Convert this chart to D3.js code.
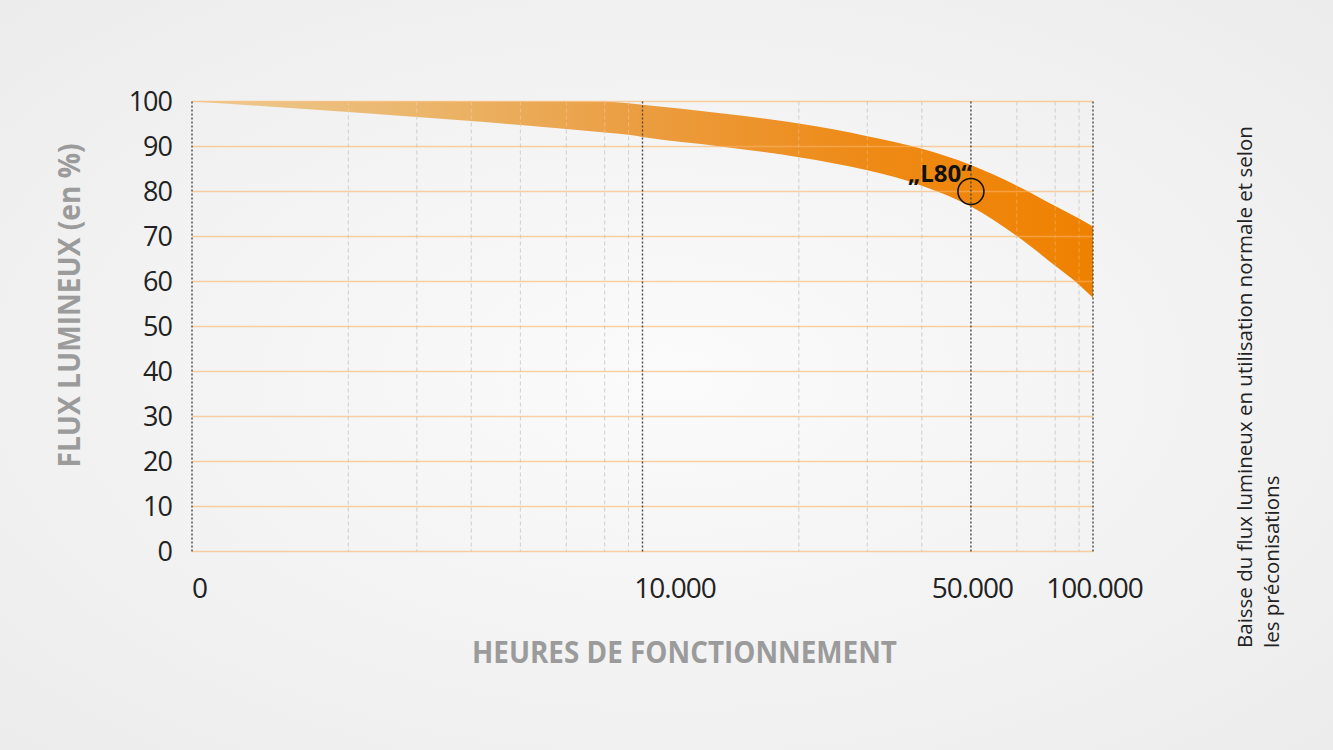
<!DOCTYPE html>
<html>
<head>
<meta charset="utf-8">
<script src="https://cdn.jsdelivr.net/npm/d3@7"></script>
<style>
  html, body { margin: 0; padding: 0; }
  body { width: 1333px; height: 750px; overflow: hidden; }
  svg { display: block; }
</style>
</head>
<body>
<svg id="chart" width="1333" height="750"></svg>
<script>
// ---------- data ----------
const gridHours = [0, 2000, 3000, 4000, 5000, 6000, 7000, 8000, 10000,
                   20000, 30000, 40000, 50000, 60000, 70000, 80000, 100000];
const majorHours = [0, 10000, 50000, 100000];
const xTickValues = [0, 10000, 50000, 100000];
const yTickValues = [0, 10, 20, 30, 40, 50, 60, 70, 80, 90, 100];

const bandHours  = [0, 2000, 3000, 4000, 5000, 6000, 7000, 8000, 10000, 15000,
                    20000, 30000, 40000, 50000, 60000, 70000, 80000, 100000];
const bandTop    = [100, 100, 100, 100, 100, 100, 99.95, 99.6, 99.3, 97.4,
                    95.1, 92.3, 89.5, 85.9, 81.3, 76.8, 74.0, 72.2];
const bandBottom = [100, 97.66, 96.57, 95.64, 94.76, 93.89, 93.13, 92.6, 92.1, 90.0,
                    87.6, 84.7, 81.3, 76.65, 70.1, 63.5, 59.3, 56.4];

const l80Point = { hours: 50000, value: 80, label: "„L80“" };

const yTitle = "FLUX LUMINEUX (en %)";
const xTitle = "HEURES DE FONCTIONNEMENT";
const noteLines = ["Baisse du flux lumineux en utilisation normale et selon",
                   "les préconisations"];

// ---------- layout ----------
const pL = 192, pR = 1093, pT = 101.5, pB = 551.5;
// relative placement of grid lines inside one decade (designer's pseudo-log axis)
const decadeFrac = [0, 0.347, 0.499, 0.62, 0.729, 0.831, 0.916, 0.969, 1];
const half = (pR - pL) / 2;
const xRange = [];
decadeFrac.forEach(f => xRange.push(pL + f * half));
decadeFrac.slice(1).forEach(f => xRange.push(pL + half + f * half));

const x = d3.scaleLinear().domain(gridHours).range(xRange);
const y = d3.scaleLinear().domain([0, 100]).range([pB, pT]);

const svg = d3.select("#chart");
const defs = svg.append("defs");

// background
const bg = defs.append("radialGradient").attr("id", "bg")
  .attr("cx", "50%").attr("cy", "50%").attr("r", "75%");
bg.append("stop").attr("offset", "0%").attr("stop-color", "#fbfbfb");
bg.append("stop").attr("offset", "100%").attr("stop-color", "#ebebeb");
svg.append("rect").attr("width", 1333).attr("height", 750).attr("fill", "url(#bg)");

// band gradient
const bandGrad = defs.append("linearGradient").attr("id", "band")
  .attr("gradientUnits", "userSpaceOnUse")
  .attr("x1", pL).attr("x2", pR).attr("y1", 0).attr("y2", 0);
[["0%", "#eccb94"], ["25%", "#ebb66c"], ["50%", "#eb9d40"], ["75%", "#ee8a16"], ["100%", "#ef8100"]]
  .forEach(([o, c]) => bandGrad.append("stop").attr("offset", o).attr("stop-color", c));

// minor vertical grid
const minor = gridHours.filter(h => !majorHours.includes(h));
svg.append("g").selectAll("line").data(minor).join("line")
  .attr("x1", d => x(d)).attr("x2", d => x(d))
  .attr("y1", pT).attr("y2", pB)
  .attr("stroke", "#c4c4c4").attr("stroke-width", 1)
  .attr("stroke-dasharray", "4,3");

// band
const bandData = bandHours.map((h, i) => ({ h, t: bandTop[i], b: bandBottom[i] }));
const area = d3.area()
  .x(d => x(d.h)).y0(d => y(d.b)).y1(d => y(d.t))
  .curve(d3.curveMonotoneX);
svg.append("path").datum(bandData).attr("d", area).attr("fill", "url(#band)");

// minor grid over band (faint)
svg.append("g").selectAll("line").data(minor).join("line")
  .attr("x1", d => x(d)).attr("x2", d => x(d))
  .attr("y1", pT).attr("y2", pB)
  .attr("stroke", "#ffffff").attr("stroke-opacity", 0.25).attr("stroke-width", 1)
  .attr("stroke-dasharray", "4,3");

// horizontal grid
svg.append("g").selectAll("line").data(yTickValues).join("line")
  .attr("x1", pL).attr("x2", pR)
  .attr("y1", d => y(d)).attr("y2", d => y(d))
  .attr("stroke", "rgb(250,178,105)").attr("stroke-opacity", 0.6)
  .attr("stroke-width", 1.5);

// major vertical lines
svg.append("g").selectAll("line").data(majorHours).join("line")
  .attr("x1", d => x(d)).attr("x2", d => x(d))
  .attr("y1", pT).attr("y2", pB)
  .attr("stroke", "#4a4a4a").attr("stroke-width", 1.4)
  .attr("stroke-dasharray", "2,2");

// y axis
const yAxis = svg.append("g").attr("transform", `translate(${pL},0)`)
  .call(d3.axisLeft(y).tickValues(yTickValues).tickSize(0).tickPadding(20));
yAxis.select(".domain").remove();
yAxis.selectAll("text")
  .attr("font-family", "'Open Sans', sans-serif").attr("font-size", 27)
  .attr("letter-spacing", "-1px").attr("fill", "#222").attr("dy", "0.33em");

// x axis
const labelDx = { 0: 7, 10000: 32, 50000: 1, 100000: 1 };
const xAxis = svg.append("g").attr("transform", `translate(0,${pB})`)
  .call(d3.axisBottom(x).tickValues(xTickValues).tickSize(0).tickPadding(0)
    .tickFormat(d => d3.format(",")(d).replace(/,/g, ".")));
xAxis.select(".domain").remove();
xAxis.selectAll("text")
  .attr("font-family", "'Open Sans', sans-serif").attr("font-size", 28)
  .attr("letter-spacing", "-1px").attr("fill", "#222")
  .attr("dy", 0).attr("y", 46)
  .attr("dx", d => labelDx[d]);

// titles
svg.append("text")
  .attr("transform", `translate(80,${(143 + 468) / 2}) rotate(-90)`)
  .attr("text-anchor", "middle")
  .attr("font-family", "'Open Sans', sans-serif").attr("font-weight", "bold")
  .attr("font-size", 31).attr("fill", "#9b9b9b")
  .attr("textLength", 324).attr("lengthAdjust", "spacingAndGlyphs")
  .text(yTitle);

svg.append("text")
  .attr("x", (472 + 897) / 2).attr("y", 663)
  .attr("text-anchor", "middle")
  .attr("font-family", "'Open Sans', sans-serif").attr("font-weight", "bold")
  .attr("font-size", 31).attr("fill", "#9b9b9b")
  .attr("textLength", 425).attr("lengthAdjust", "spacingAndGlyphs")
  .text(xTitle);

// L80 marker
svg.append("circle")
  .attr("cx", x(l80Point.hours)).attr("cy", y(l80Point.value)).attr("r", 13)
  .attr("fill", "none").attr("stroke", "#111").attr("stroke-width", 1.6);
svg.append("text")
  .attr("x", x(l80Point.hours) + 1).attr("y", 182)
  .attr("text-anchor", "end")
  .attr("font-family", "'Open Sans', sans-serif").attr("font-weight", "bold")
  .attr("font-size", 24).attr("fill", "#111")
  .text(l80Point.label);

// side note
const note = svg.append("g").attr("transform", "translate(0,648)");
noteLines.forEach((t, i) => {
  note.append("text")
    .attr("transform", `translate(${1252 + i * 27},0) rotate(-90)`)
    .attr("font-family", "'Open Sans', sans-serif").attr("font-size", 20.5)
    .attr("fill", "#222")
    .text(t);
});
</script>
</body>
</html>
